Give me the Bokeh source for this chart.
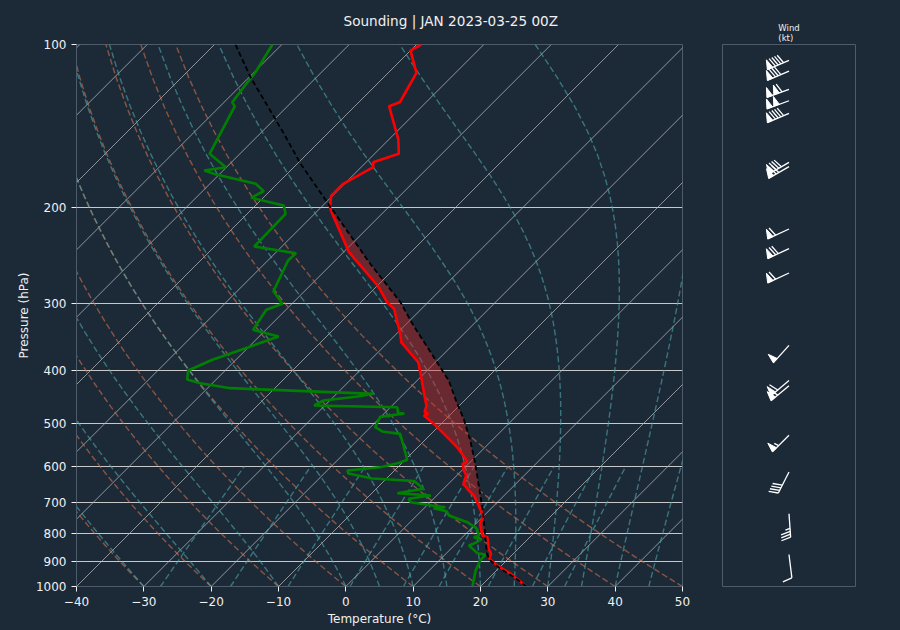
import numpy as np
from bokeh.plotting import figure
from bokeh.models import Range1d, FixedTicker, NumeralTickFormatter, Title
from bokeh.layouts import row
from bokeh.embed import file_html
from bokeh.resources import INLINE

# ---------------- data ----------------
temp_p = [1000, 947.5, 915, 889, 870.3, 851.9, 811, 805.2, 766, 742.6, 708.9, 679.3, 665.1,
          646.4, 624, 610.9, 593.7, 589.8, 581.3, 553.4, 522.8, 501, 483.6, 480.1, 476.8,
          463.5, 447.4, 416.9, 386.1, 354.6, 341.4, 307.3, 298.9, 284.4, 278.4, 241.6, 203.9,
          199.6, 190.2, 180.7, 168.4, 164.9, 159.1, 149.7, 130, 127.8, 112.8, 102.6, 100]
temp_T = [26.8, 22.6, 19.4, 17.2, 16.7, 15.6, 13.7, 12.7, 10.6, 10.0, 7.7, 5.5, 4.0,
          2.2, 1.4, 0.3, -0.9, -0.4, -1.2, -4.15, -8.1, -11.1, -13.8, -13.4, -14.2,
          -14.9, -16.4, -19.3, -22.5, -28.0, -29.5, -34.1, -36.1, -38.8, -40.0, -49.2, -57.7,
          -58.7, -60.2, -60.2, -58.2, -58.95, -56.4, -58.6, -64.9, -63.9, -65.8, -70.0, -69.3]

dew_p = [1000, 934.3, 895.4, 873, 868.1, 840.2, 834.1, 820, 811, 805.2, 782.4, 760.9, 739.6,
         726.3, 717, 714, 708.9, 699, 688.9, 679.3, 672.8, 660.2, 638.9, 632, 618.7, 610.9,
         602.5, 591.7, 583.7, 522.8, 517.6, 508.3, 486.4, 479.6, 478.6, 466.9, 463.5, 453.8,
         446.1, 441.1, 430.6, 421.7, 415.1, 399.4, 381.6, 361.8, 345.7, 336.1, 308.7, 300.9,
         285.3, 250.3, 242.7, 235.9, 205.3, 198.2, 191.8, 186.5, 180.7, 173.8, 170.8, 168.4,
         159.1, 130.1, 127.8, 115.7, 112.5, 100]
dew_T = [18.8, 16.9, 16.1, 16.0, 14.6, 12.2, 12.6, 13.1, 11.7, 12.2, 10.9, 8.5, 4.75,
         3.8, 1.4, 3.0, 0.8, -2.9, -3.7, -0.9, -6.2, -3.0, -5.5, -12.1, -16.4, -17.0,
         -12.6, -10.5, -9.7, -14.6, -17.6, -19.3, -20.1, -17.0, -18.0, -19.0, -31.6, -30.9,
         -26.5, -24.5, -46.6, -51.8, -54.3, -55.5, -53.5, -50.0, -47.1, -51.9, -52.9, -51.4,
         -54.6, -57.0, -56.9, -64.1, -64.3, -65.8, -71.8, -70.9, -73.2, -80.4, -82.8, -80.1,
         -84.5, -87.8, -88.8, -89.6, -89.8, -91.4]

parcel_p = [1000, 961, 927.5, 895.4, 870.3, 811, 734.3, 665.1, 593.7, 537.8, 490.5, 460.1,
            416.9, 374.8, 337.1, 323, 298.9, 253.9, 199.6, 166, 146.2, 114.9, 100]
parcel_T = [26.8, 23.6, 20.3, 17.6, 16.1, 13.4, 9.6, 5.6, 1.0, -3.2, -7.4, -10.6,
            -15.3, -21.4, -27.5, -29.9, -34.1, -44.3, -58.6, -69.5, -76.4, -89.8, -96.9]

cape_bottom_p = 811     # LFC (hPa)
cape_top_p = 199.6      # EL (hPa)

wind_p = [107, 112, 121, 127, 134, 165, 168, 219, 238, 264, 359, 417, 426, 526, 615, 734, 873]
wind_spd = [90, 80, 110, 100, 90, 80, 70, 60, 70, 60, 50, 60, 60, 55, 40, 35, 10]
wind_dir = [247, 247, 250, 250, 247, 240, 240, 245, 245, 245, 222, 230, 230, 225, 207, 176, 173]

x_ticks = [-40, -30, -20, -10, 0, 10, 20, 30, 40, 50]
p_ticks = [100, 200, 300, 400, 500, 600, 700, 800, 900, 1000]

title_text = "Sounding | JAN 2023-03-25 00Z"

# ---------------- styles ----------------
BG = "#1c2a38"
SPINE = "#4d5b6a"
TXT = "#f0f0f0"
FONT = "DejaVu Sans"
SKEW = 80.5           # deg C per decade of pressure (45 degree isotherms)
FW, FH = 606, 542


def skew_x(T, p):
    return np.asarray(T, dtype=float) + SKEW * np.log10(1000.0 / np.asarray(p, dtype=float))


# ---------------- thermodynamic background lines ----------------
Rd, Cp, Lv, EPS = 287.04749, 1004.6662, 2.50084e6, 0.6219569
KAPPA = Rd / Cp
pgrid = np.linspace(1000, 100, 60)


def sat_vp(Tk):
    return 6.112 * np.exp(17.67 * (Tk - 273.15) / (Tk - 29.65))


def dTdp(p, Tk):
    es = sat_vp(Tk)
    rs = EPS * es / (p - es)
    frac = (Rd * Tk + Lv * rs) / (Cp + (Lv * Lv * rs * EPS) / (Rd * Tk * Tk))
    return frac / p


dry_t0 = np.arange(-40, 51, 10)
dry_xs, dry_ys = [], []
for t0 in dry_t0:
    T = (t0 + 273.15) * (pgrid / 1000.0) ** KAPPA - 273.15
    dry_xs.append(list(skew_x(T, pgrid)))
    dry_ys.append(list(pgrid))

moist_t0 = np.concatenate((np.arange(-40, 0, 10), np.arange(0, 51, 5))).astype(float)
Tk = moist_t0 + 273.15
nstep = 300
pf = np.linspace(1000, 100, nstep + 1)
Ts = [Tk.copy()]
for i in range(nstep):
    p0, h = pf[i], pf[i + 1] - pf[i]
    k1 = dTdp(p0, Tk)
    k2 = dTdp(p0 + h / 2, Tk + h / 2 * k1)
    k3 = dTdp(p0 + h / 2, Tk + h / 2 * k2)
    k4 = dTdp(p0 + h, Tk + h * k3)
    Tk = Tk + h / 6 * (k1 + 2 * k2 + 2 * k3 + k4)
    Ts.append(Tk.copy())
Ts = np.array(Ts) - 273.15
moist_xs = [list(skew_x(Ts[::5, j], pf[::5])) for j in range(len(moist_t0))]
moist_ys = [list(pf[::5]) for _ in moist_t0]

mix_w = np.array([0.0004, 0.001, 0.002, 0.004, 0.007, 0.01, 0.016, 0.024, 0.032])
pm = np.linspace(1000, 600, 20)
mix_xs, mix_ys = [], []
for w in mix_w:
    e = pm * w / (EPS + w)
    val = np.log(e / 6.112)
    td = 243.5 * val / (17.67 - val)
    mix_xs.append(list(skew_x(td, pm)))
    mix_ys.append(list(pm))

iso_T = np.arange(-130, 51, 10)
iso_xs = [list(skew_x([t, t], [1000, 100])) for t in iso_T]
iso_ys = [[1000, 100] for _ in iso_T]

# ---------------- main skew-T ----------------
p1 = figure(width=76 + FW + 20, height=630, x_range=Range1d(-40, 50), y_range=Range1d(1000, 100),
            y_axis_type="log", output_backend="svg", toolbar_location=None,
            min_border_left=76, min_border_right=20, min_border_top=44, min_border_bottom=44,
            background_fill_color=BG, border_fill_color=BG, outline_line_color=SPINE)

p1.multi_line(iso_xs, iso_ys, line_color="#b4b8bc", line_width=0.9, line_alpha=0.85)
p1.multi_line(dry_xs, dry_ys, line_color="#d0704a", line_width=1.4, line_alpha=0.62, line_dash="6 3")
p1.multi_line(moist_xs, moist_ys, line_color="#4fa8ab", line_width=1.4, line_alpha=0.6, line_dash="6 3")
p1.multi_line(mix_xs, mix_ys, line_color="#4fa8ab", line_width=1.4, line_alpha=0.6, line_dash="6 3")

# CAPE shading between parcel and environment
pp = np.array(parcel_p); pt = np.array(parcel_T)
tp = np.array(temp_p); tt = np.array(temp_T)
mp = (pp <= cape_bottom_p + 0.01) & (pp >= cape_top_p - 0.01)
mt = (tp <= cape_bottom_p + 0.01) & (tp >= cape_top_p - 0.01)
cx = list(skew_x(pt[mp], pp[mp])) + list(skew_x(tt[mt], tp[mt])[::-1])
cy = list(pp[mp]) + list(tp[mt][::-1])
p1.patch(cx, cy, fill_color="#d62728", fill_alpha=0.42, line_color=None)

p1.line(skew_x(temp_T, temp_p), temp_p, line_color="#ff0000", line_width=2.6)
p1.line(skew_x(dew_T, dew_p), dew_p, line_color="#008000", line_width=2.6)
p1.line(skew_x(parcel_T, parcel_p), parcel_p, line_color="#000000", line_width=1.8, line_dash="5 3")

p1.xgrid.visible = False
p1.yaxis.ticker = FixedTicker(ticks=p_ticks)
p1.ygrid.ticker = FixedTicker(ticks=p_ticks)
p1.ygrid.grid_line_color = "#c8c8c8"
p1.ygrid.grid_line_width = 1.0
p1.xaxis.ticker = FixedTicker(ticks=x_ticks)
p1.xaxis.major_label_overrides = {t: ("\u2212%d" % -t if t < 0 else "%d" % t) for t in x_ticks}
p1.yaxis.formatter = NumeralTickFormatter(format="0")
for ax in (p1.xaxis[0], p1.yaxis[0]):
    ax.axis_line_color = SPINE
    ax.major_tick_line_color = TXT
    ax.minor_tick_line_color = None
    ax.major_tick_out = 5
    ax.major_tick_in = 0
    ax.major_label_text_color = TXT
    ax.major_label_text_font = FONT
    ax.major_label_text_font_size = "12px"
    ax.axis_label_text_color = TXT
    ax.axis_label_text_font = FONT
    ax.axis_label_text_font_size = "12px"
    ax.axis_label_text_font_style = "normal"
    ax.major_label_standoff = 5
p1.xaxis.axis_label = "Temperature (\u00b0C)"
p1.yaxis.axis_label = "Pressure (hPa)"
p1.xaxis.axis_label_standoff = 3
p1.yaxis.axis_label_standoff = 2

# title: a tiny spacer panel next to the frame, then the real title above it
p1.title = None
p1.add_layout(Title(text=" ", text_font_size="1px", standoff=13, text_color=BG), "above")
p1.add_layout(Title(text=title_text, align="left", offset=267, standoff=0, text_color=TXT,
                    text_font=FONT, text_font_size="13.6px", text_font_style="normal"), "above")

# ---------------- wind barbs ----------------
BW = 133
p2 = figure(width=20 + BW + 45, height=630, x_range=Range1d(-BW / 2, BW / 2), y_range=Range1d(1000, 100),
            y_axis_type="log", output_backend="svg", toolbar_location=None,
            min_border_left=20, min_border_right=45, min_border_top=44, min_border_bottom=44,
            background_fill_color=BG, border_fill_color=BG, outline_line_color=SPINE)
p2.xaxis.visible = False
p2.yaxis.visible = False
p2.grid.visible = False
p2.title.text = "Wind\n(kt)"
p2.title.align = "center"
p2.title.text_color = TXT
p2.title.text_font = FONT
p2.title.text_font_size = "8.5px"
p2.title.text_font_style = "normal"
p2.title.standoff = 4

L = 23.5
H, W, SP = 0.4 * L, 0.25 * L, 0.125 * L
px_per_decade = FH / np.log10(1000 / 100)
flag_xs, flag_ys, line_xs, line_ys = [], [], [], []
for pb, spd, dr in zip(wind_p, wind_spd, wind_dir):
    s = int(5 * round(spd / 5))
    nflag = s // 50
    rem = s - 50 * nflag
    nbarb = rem // 10
    half = (rem - 10 * nbarb) >= 5
    lines = [[(0, 0), (0, L)]]
    flags = []
    off = L
    for i in range(nflag):
        if off != L:
            off += SP / 2
        flags.append([(0, off), (H, off - W / 2), (0, off - W)])
        off -= W + SP
    for i in range(nbarb):
        lines.append([(0, off), (H, off + W / 2)])
        off -= SP
    if half:
        if off == L:
            off -= 1.5 * SP
        lines.append([(0, off), (H / 2, off + W / 4)])
    u = -np.sin(np.radians(dr))
    v = -np.cos(np.radians(dr))
    a = np.arctan2(v, u) + np.pi / 2
    ca, sa = np.cos(a), np.sin(a)

    def conv(pts):
        xs = [x * ca - y * sa for x, y in pts]
        ys = [pb * 10 ** (-(x * sa + y * ca) / px_per_decade) for x, y in pts]
        return xs, ys

    for f in flags:
        xs, ys = conv(f)
        flag_xs.append(xs); flag_ys.append(ys)
    for ln in lines:
        xs, ys = conv(ln)
        line_xs.append(xs); line_ys.append(ys)

p2.patches(flag_xs, flag_ys, fill_color="white", line_color="white", line_width=1.0)
p2.multi_line(line_xs, line_ys, line_color="white", line_width=1.3)

layout = row(p1, p2, spacing=0, styles={"background-color": BG})
html = file_html(layout, INLINE)
html = html.replace("<body>", '<body style="margin:0;background-color:%s;">' % BG, 1)
open("out.html", "w").write(html)
